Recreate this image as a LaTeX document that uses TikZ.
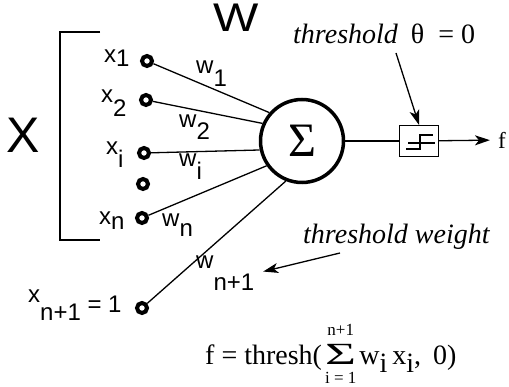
\documentclass[tikz,border=0pt]{standalone}
\usepackage{fontspec}
\setmainfont{Liberation Serif}
\setsansfont{Liberation Sans}
\usetikzlibrary{arrows.meta}
\newcommand{\lowsub}[2][4pt]{\raisebox{-#1}{#2}}
\newcommand{\sumlim}[2]{\ensuremath{\mathop{\hbox{\scalebox{1.9}[1.1]{Σ}}}\limits%
  ^{\hbox{\raisebox{0pt}[\height][8pt]{\fontsize{17}{17}\selectfont #2}}}%
  _{\hbox{\raisebox{0pt}[17pt][0pt]{\fontsize{17}{17}\selectfont #1}}}}}

\begin{document}
\begin{tikzpicture}[
    x=1pt, y=-1pt,
    inport/.style={circle, draw, line width=4pt, minimum size=10pt, inner sep=0pt},
    sumnode/.style={circle, draw, line width=3.5pt, minimum size=83pt, inner sep=0pt,
                    font=\fontsize{48}{48}\selectfont},
    sanslbl/.style={font=\sffamily\fontsize{24}{24}\selectfont, inner sep=0pt, anchor=base west},
    seriflbl/.style={font=\fontsize{28}{28}\selectfont, inner sep=0pt, anchor=base west},
    wire/.style={line width=1.3pt},
    pointer/.style={line width=1.3pt, -{Stealth[length=15pt,width=10pt,inset=4pt]}}
]
\useasboundingbox (0,0) rectangle (509,387);

% input vector and weights
\node[font=\sffamily\fontsize{50}{50}\selectfont, inner sep=0pt] (bigX) at (23,135) {X};
\node[font=\sffamily\fontsize{40}{40}\selectfont, inner sep=0pt] (bigW) at (236,18) {\scalebox{1.2}[1]{W}};
\draw[line width=2.5pt] (100,32) -- (60,32) -- (60,240) -- (100,240);

\node[inport] (x1) at (147,61) {};
\node[inport] (x2) at (146,100) {};
\node[inport] (xi) at (144,153) {};
\node[inport] (xdots) at (143,184) {};
\node[inport] (xn) at (142,218) {};
\node[inport] (xbias) at (142,308) {};

\node[sanslbl] (lx1) at (104,63) {x\lowsub{1}};
\node[sanslbl] (lx2) at (101,103) {x\lowsub[14pt]{2}};
\node[sanslbl] (lxi) at (106,155) {x\lowsub[13pt]{i}};
\node[sanslbl] (lxn) at (99,225) {x\lowsub[5pt]{n}};
\node[sanslbl] (lxbias) at (28,313) {\raisebox{10pt}{x}\lowsub[8pt]{n+1} = 1};

\node[sanslbl] (lw1) at (196,74) {w\lowsub[13pt]{1}};
\node[sanslbl] (lw2) at (179,128) {w\lowsub[12pt]{2}};
\node[sanslbl] (lwi) at (179,167) {w\lowsub[13pt]{i}};
\node[sanslbl] (lwn) at (162,227) {w\lowsub[10pt]{n}};
\node[sanslbl] (lwbias) at (196,269) {w\lowsub[22pt]{n+1}};

% summation unit
\node[sumnode] (sum) at (302,141) {Σ};
\draw[wire] (x1) -- (sum.139);
\draw[wire] (x2) -- (sum.156);
\draw[wire] (xi) -- (sum.192);
\draw[wire] (xn) -- (sum.215);
\draw[wire] (xbias) -- (sum.248);

% threshold step
\node[draw, line width=1.2pt, minimum width=39pt, minimum height=31pt, inner sep=0pt] (step) at (419,141) {};
\begin{scope}[shift={(step.center)}, line width=1.2pt]
  \draw (-13,8) -- (1,8) -- (1,-6) -- (14,-6);
  \draw (-11,2) -- (16,2);
\end{scope}
\node[font=\fontsize{23}{23}\selectfont, inner sep=0pt] (fout) at (502,140) {f};
\draw[wire] (sum) -- (step);
\draw[pointer, shorten >=8pt] (step) -- (fout);

% annotations
\node[seriflbl] (thrlbl) at (293,44) {\itshape threshold\hspace{13pt}\upshape θ\hspace{14pt}=\hspace{7pt}0};
\coordinate (thrtail) at (396,53);
\draw[pointer] (thrtail) -- (step.north);

\node[seriflbl] (wtlbl) at (303,244) {\itshape threshold weight};
\coordinate (wttail) at (340,253);
\draw[pointer, shorten >=9pt] (wttail) -- (lwbias.east);

\node[seriflbl] (formula) at (205,365) {f = thresh(\hspace{3pt}\sumlim{i = 1}{n+1}\hspace{3pt}w\lowsub[8pt]{i}\hspace{5pt}x\lowsub[8pt]{i},\hspace{12pt}0)};
\end{tikzpicture}
\end{document}
